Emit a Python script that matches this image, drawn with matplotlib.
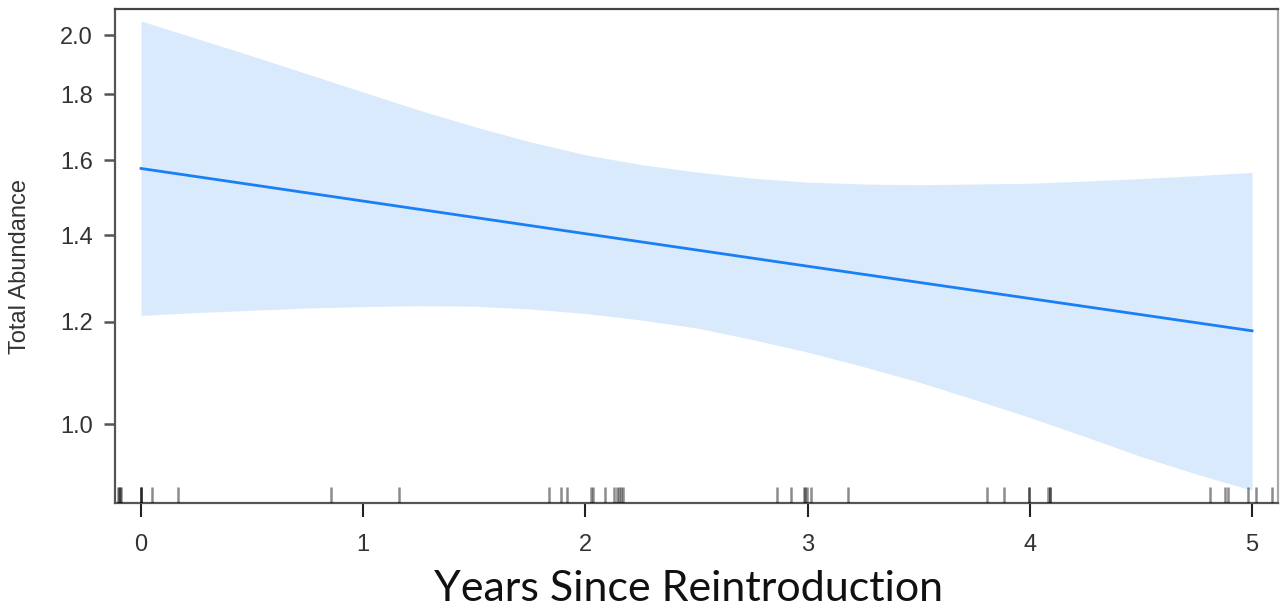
import matplotlib
matplotlib.use("Agg")
import matplotlib.pyplot as plt
import matplotlib.transforms as mtransforms
from matplotlib.ticker import FixedLocator, FixedFormatter, NullLocator

# ---- data ----
years = [0, 0.25, 0.5, 0.75, 1, 1.25, 1.5, 1.75, 2, 2.25, 2.5,
         2.75, 3, 3.25, 3.5, 3.75, 4, 4.25, 4.5, 4.75, 5]
upper = [2.051, 1.988, 1.927, 1.866, 1.807, 1.750, 1.699, 1.654, 1.616, 1.588, 1.567,
         1.550, 1.539, 1.534, 1.532, 1.534, 1.536, 1.542, 1.549, 1.557, 1.566]
lower = [1.214, 1.22, 1.225, 1.23, 1.233, 1.235, 1.234, 1.228, 1.218, 1.204, 1.187,
         1.163, 1.137, 1.108, 1.078, 1.045, 1.012, 0.978, 0.944, 0.915, 0.889]
fit_years = [0, 1, 2, 3, 4, 5]
fit = [1.577, 1.488, 1.404, 1.325, 1.251, 1.181]
rug = [-0.105, -0.10, -0.095, -0.09,
       0.0, 0.0, 0.0, 0.05, 0.167, 0.857, 1.16,
       1.837, 1.888, 1.918, 2.025, 2.035, 2.09, 2.13, 2.14, 2.15, 2.16, 2.17,
       2.86, 2.925, 2.985, 2.99, 2.995, 3.013, 3.18,
       3.805, 3.883, 3.997, 3.997, 4.08, 4.09, 4.09,
       4.81, 4.88, 4.89, 4.98, 5.02, 5.09]
yticks = [1.0, 1.2, 1.4, 1.6, 1.8, 2.0]
ytick_labels = ["1.0", "1.2", "1.4", "1.6", "1.8", "2.0"]
xticks = [0, 1, 2, 3, 4, 5]
xtick_labels = ["0", "1", "2", "3", "4", "5"]

fig = plt.figure(figsize=(12.81, 6.09), dpi=100)
ax = fig.add_axes([0.0898, 0.174, 0.9079, 0.8112])

ax.fill_between(years, lower, upper, color="#d9eafd", linewidth=0, zorder=1)
ax.plot(fit_years, fit, color="#1a7ff5", linewidth=2.0, zorder=3)

ax.set_yscale("log")
ax.set_xlim(-0.117, 5.117)
ax.set_ylim(0.869, 2.095)

trans = mtransforms.blended_transform_factory(ax.transData, ax.transAxes)
ax.vlines(rug, 0, 0.032, transform=trans, color="black", alpha=0.45,
          linewidth=1.8, zorder=4)

ax.yaxis.set_major_locator(FixedLocator(yticks))
ax.yaxis.set_major_formatter(FixedFormatter(ytick_labels))
ax.yaxis.set_minor_locator(NullLocator())
ax.set_xticks(xticks)
ax.set_xticklabels(xtick_labels)

for t in ax.get_yticklabels() + ax.get_xticklabels():
    t.set_fontfamily(["Liberation Sans", "DejaVu Sans"])
    t.set_fontsize(17)
    t.set_color("#333333")

ax.tick_params(axis="y", direction="out", length=8, width=1.8, color="#555555", pad=8)
ax.tick_params(axis="x", direction="out", length=10, width=1.5, color="#222222", pad=12)

for s in ["left", "bottom"]:
    ax.spines[s].set_color("#555555")
    ax.spines[s].set_linewidth(1.6)
ax.spines["top"].set_color("#444444")
ax.spines["top"].set_linewidth(1.6)
ax.spines["right"].set_color("#aaaaaa")
ax.spines["right"].set_linewidth(1.6)

ax.set_ylabel("Total Abundance", fontsize=17, color="#333333",
              family=["Liberation Sans", "DejaVu Sans"])
ax.yaxis.set_label_coords(-0.0722, 0.478)
ax.set_xlabel("Years Since Reintroduction", fontsize=31, color="#111111",
              family=["Lato", "DejaVu Sans"])
ax.xaxis.set_label_coords(0.493, -0.135)

fig.savefig("out.png", dpi=100)
